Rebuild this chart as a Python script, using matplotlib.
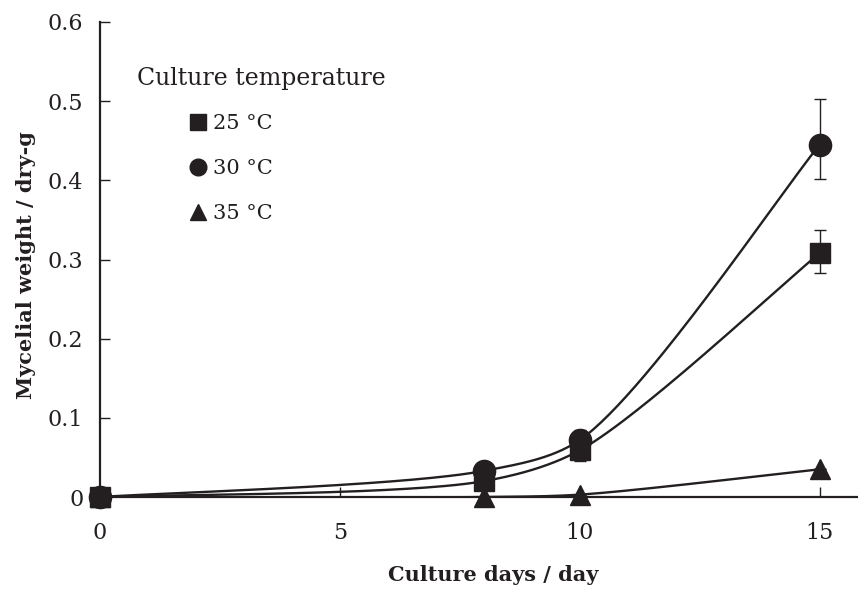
import numpy as np
import matplotlib
matplotlib.use("Agg")
import matplotlib.pyplot as plt
from matplotlib.lines import Line2D

days = [0, 8, 10, 15]
w25 = [0.0, 0.020, 0.059, 0.308]
w30 = [0.0, 0.033, 0.072, 0.445]
w35 = [0.0, 0.000, 0.003, 0.035]
e25_lo = [0.0, 0.0, 0.014, 0.025]
e25_hi = [0.0, 0.0, 0.012, 0.029]
e30_lo = [0.0, 0.0, 0.010, 0.043]
e30_hi = [0.0, 0.0, 0.013, 0.058]
e35_lo = [0.0, 0.0, 0.0, 0.0]
e35_hi = [0.0, 0.0, 0.0, 0.0]
labels = ["25 °C", "30 °C", "35 °C"]
markers = ["s", "o", "^"]
xticks = [0, 5, 10, 15]
yticks = [0, 0.1, 0.2, 0.3, 0.4, 0.5, 0.6]

plt.rcParams['font.family'] = ['DejaVu Serif']
INK = '#231f20'
XMAX, YMAX = 15.8, 0.6
AX_W, AX_H = 758, 475

def smooth(x, y, n=60):
    # smoothed line through the points: bezier arms along the bisector of adjacent chords
    x = np.asarray(x, float); y = np.asarray(y, float)
    P = np.c_[x / XMAX * AX_W, y / YMAX * AX_H]
    k = len(P)
    d = np.linalg.norm(np.diff(P, axis=0), axis=1)
    U = np.diff(P, axis=0) / d[:, None]
    T = np.zeros_like(P)
    L = np.zeros(k)
    for i in range(k):
        if i == 0:
            T[i] = U[0]
        elif i == k - 1:
            T[i] = U[-1]
        else:
            v = U[i - 1] + U[i]
            T[i] = v / np.linalg.norm(v)
        L[i] = np.linalg.norm(P[min(i + 1, k - 1)] - P[max(i - 1, 0)]) / 6
    out = []
    t = np.linspace(0, 1, n)[:, None]
    for i in range(k - 1):
        p1, p2 = P[i], P[i + 1]
        lim = d[i] / 3
        c1 = p1 + T[i] * min(L[i], lim)
        c2 = p2 - T[i + 1] * min(L[i + 1], lim)
        seg = (1 - t) ** 3 * p1 + 3 * (1 - t) ** 2 * t * c1 + 3 * (1 - t) * t ** 2 * c2 + t ** 3 * p2
        out.append(seg if i == 0 else seg[1:])
    out = np.vstack(out)
    return out[:, 0] / AX_W * XMAX, out[:, 1] / AX_H * YMAX

fig = plt.figure(figsize=(8.58, 5.89), dpi=100)
ax = fig.add_axes([100 / 858, 92 / 589, AX_W / 858, AX_H / 589])

series = [(w25, e25_lo, e25_hi), (w30, e30_lo, e30_hi), (w35, e35_lo, e35_hi)]
for (y, lo, hi), m in zip(series, markers):
    sxv, syv = smooth(days, y)
    ax.plot(sxv, syv, color=INK, lw=1.7, zorder=2)
    ax.errorbar(days, y, yerr=[lo, hi], fmt='none', ecolor=INK, elinewidth=1.0, capsize=4, capthick=1.0, zorder=2)
    ms = {'s': 15, 'o': 16, '^': 15}[m]
    ax.plot(days, y, linestyle='none', marker=m, ms=ms, color=INK, zorder=3, clip_on=False)

ax.set_xlim(0, XMAX)
ax.set_ylim(0, YMAX)
ax.set_xticks(xticks)
ax.set_xticklabels([str(v) for v in xticks])
ax.set_yticks(yticks)
ax.set_yticklabels(["0"] + [f"{v:.1f}" for v in yticks[1:]])
ax.spines['top'].set_visible(False)
ax.spines['right'].set_visible(False)
for s in ['left', 'bottom']:
    ax.spines[s].set_linewidth(1.6)
    ax.spines[s].set_color(INK)
ax.tick_params(direction='in', length=7, width=1.0, labelsize=16, colors=INK, pad=12)
ax.tick_params(axis='x', pad=18)
ax.set_xlabel("Culture days / day", fontsize=15, fontweight='bold', color=INK)
ax.set_ylabel("Mycelial weight / dry-g", fontsize=15, fontweight='bold', color=INK)
ax.xaxis.set_label_coords((493 - 100) / AX_W, -0.143)
ax.yaxis.set_label_coords(-0.085, 1 - (265 - 22) / AX_H)

ax.text((137 - 100) / AX_W, 1 - (78 - 22) / AX_H, "Culture temperature", transform=ax.transAxes,
        fontsize=17, va='center', ha='left', color=INK)
handles = [Line2D([], [], marker=m, ls='none', color=INK, ms=12) for m in markers]
leg = ax.legend(handles, labels, loc='upper left', bbox_to_anchor=((192 - 100) / AX_W, 1 - (114 - 22) / AX_H),
                frameon=False, fontsize=15, handlelength=0.6, handletextpad=0.4, labelspacing=1.25,
                borderaxespad=0, borderpad=0)
for t in leg.get_texts():
    t.set_color(INK)

fig.savefig("out.png", dpi=100)
